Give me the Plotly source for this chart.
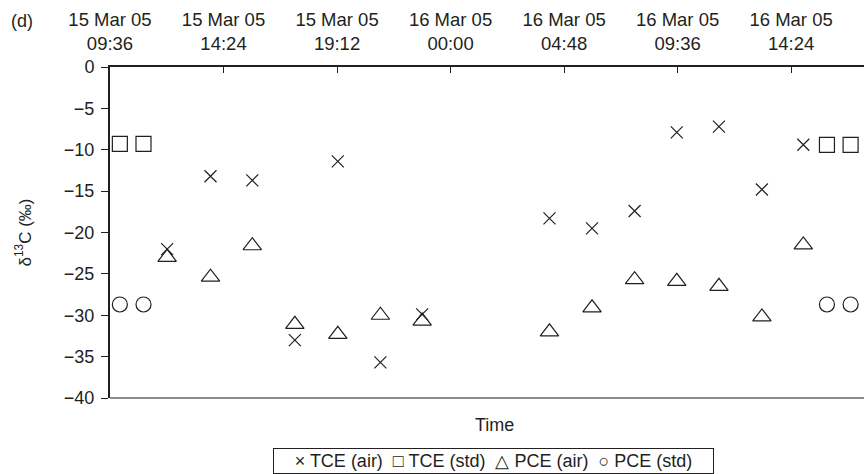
import plotly.graph_objects as go

# ---- data ----
air_times = ["2005-03-15 12:01", "2005-03-15 13:51", "2005-03-15 15:37", "2005-03-15 17:25",
             "2005-03-15 19:14", "2005-03-15 21:02", "2005-03-15 22:48",
             "2005-03-16 04:11", "2005-03-16 05:59", "2005-03-16 07:47", "2005-03-16 09:34",
             "2005-03-16 11:21", "2005-03-16 13:10", "2005-03-16 14:55"]
tce_air = [-22.0, -13.2, -13.7, -33.0, -11.4, -35.7, -29.9,
           -18.3, -19.5, -17.4, -7.9, -7.2, -14.8, -9.4]
pce_air = [-23.0, -25.4, -21.6, -31.1, -32.3, -30.0, -30.7,
           -32.0, -29.1, -25.7, -25.9, -26.5, -30.2, -21.5]

std_times = ["2005-03-15 10:01", "2005-03-15 11:01", "2005-03-16 15:55", "2005-03-16 16:55"]
tce_std = [-9.3, -9.3, -9.4, -9.4]
pce_std = [-28.7, -28.7, -28.7, -28.7]

tick_vals = ["2005-03-15 09:36", "2005-03-15 14:24", "2005-03-15 19:12", "2005-03-16 00:00",
             "2005-03-16 04:48", "2005-03-16 09:36", "2005-03-16 14:24"]
tick_dates = ["15 Mar 05", "15 Mar 05", "15 Mar 05", "16 Mar 05", "16 Mar 05", "16 Mar 05", "16 Mar 05"]
tick_times = ["09:36", "14:24", "19:12", "00:00", "04:48", "09:36", "14:24"]
x_range = ["2005-03-15 09:36", "2005-03-16 17:29"]
y_ticks = [0, -5, -10, -15, -20, -25, -30, -35, -40]

series_names = ["TCE (air)", "TCE (std)", "PCE (air)", "PCE (std)"]
legend_glyphs = ["×", "□", "△", "○"]

INK = "#231f20"
FONT = "Liberation Sans, Arial, Helvetica, sans-serif"

series = [
    (series_names[0], air_times, tce_air, "x-thin-open", 12),
    (series_names[1], std_times, tce_std, "square-open", 15),
    (series_names[2], air_times, pce_air, "triangle-up-open", 16),
    (series_names[3], std_times, pce_std, "circle-open", 15),
]

fig = go.Figure()
for name, xs, ys, sym, size in series:
    fig.add_trace(go.Scatter(
        x=xs, y=ys, mode="markers", name=name, showlegend=False,
        marker=dict(symbol=sym, size=size, color=INK, line=dict(color=INK, width=1.2)),
    ))

legend_text = "  ".join(g + " " + n for g, n in zip(legend_glyphs, series_names))

fig.update_layout(
    width=864, height=474,
    margin=dict(l=110, r=0, t=67, b=76),
    paper_bgcolor="white", plot_bgcolor="white",
    font=dict(family=FONT, size=18, color=INK),
    showlegend=False,
    xaxis=dict(
        type="date", range=x_range, side="top", automargin=False,
        tickvals=tick_vals,
        ticktext=[d + "<br>" + t for d, t in zip(tick_dates, tick_times)],
        ticks="inside", ticklen=6, tickwidth=1.2, tickcolor=INK,
        showline=True, linecolor=INK, linewidth=2,
        showgrid=False, zeroline=False,
        ticklabelstandoff=8,
        tickfont=dict(family=FONT, size=18.5, color=INK),
    ),
    yaxis=dict(
        range=[-40, 0], tickvals=y_ticks, automargin=False,
        ticks="outside", ticklen=7, tickwidth=1.2, tickcolor=INK,
        showline=True, linecolor=INK, linewidth=2,
        showgrid=False, zeroline=False,
        ticklabelstandoff=3,
        tickfont=dict(family=FONT, size=18, color=INK),
    ),
    shapes=[dict(type="line", xref="paper", yref="paper", x0=0, x1=1, y0=0, y1=0,
                 line=dict(color="#666666", width=1.5))],
    annotations=[
        dict(text="Time", xref="paper", yref="paper", x=0.5, y=0, yanchor="top",
             xshift=7, yshift=-15, showarrow=False, font=dict(family=FONT, size=18, color=INK)),
        dict(text="δ<sup>13</sup>C (‰)", xref="paper", yref="paper", x=0, y=0.5,
             xanchor="center", yanchor="middle", xshift=-87, textangle=-90,
             showarrow=False, font=dict(family=FONT, size=17, color=INK)),
        dict(text="(d)", xref="paper", yref="paper", x=0, y=1, xanchor="center",
             yanchor="middle", xshift=-88, yshift=46, showarrow=False,
             font=dict(family=FONT, size=18, color=INK)),
        dict(text=legend_text, xref="paper", yref="paper", x=0, y=0,
             xanchor="left", yanchor="top", xshift=163, yshift=-50, showarrow=False,
             width=435, align="center", borderpad=2,
             bordercolor=INK, borderwidth=1, bgcolor="white",
             font=dict(family=FONT, size=18, color=INK)),
    ],
)

fig.write_html("out.html", config={"displayModeBar": False},
               post_script="document.body.style.margin='0px';")
